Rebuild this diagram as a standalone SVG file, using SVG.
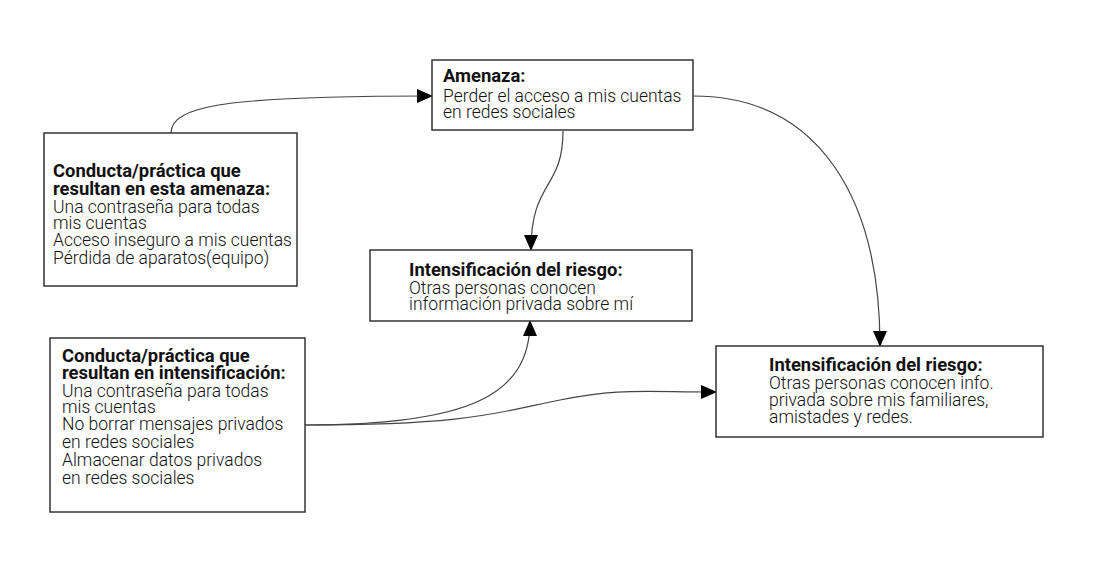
<svg xmlns="http://www.w3.org/2000/svg" width="1100" height="564" viewBox="0 0 1100 564">
<defs>
<marker id="arr" markerUnits="userSpaceOnUse" markerWidth="16" markerHeight="14" viewBox="0 0 16 14" refX="15" refY="7" orient="auto">
<path d="M0 0 L16 7 L0 14 Z" fill="#000"/>
</marker>
<style>
.box{fill:#fff;stroke:#333;stroke-width:1.5}
.t{font-family:Roboto,"Liberation Sans",sans-serif;fill:#111;font-weight:300;font-size:17.5px}
.b{font-weight:700;font-size:18.4px}
.c{fill:none;stroke:#444;stroke-width:1.2;marker-end:url(#arr)}
</style>
</defs>
<rect width="1100" height="564" fill="#fff"/>
<g id="connectors">
<path class="c" d="M171 133 C171 105, 230 96, 432 96"/>
<path class="c" d="M563 131 C563 190, 531 180, 531 250"/>
<path class="c" d="M693 96 C820 96, 880 200, 880 346"/>
<path class="c" d="M305 425 C470 425, 530 395, 530 321"/>
<path class="c" d="M305 425 C470 425, 500 412, 560 400 S 640 392, 716 392"/>
</g>
<g id="node-conducta-amenaza">
<rect class="box" x="44" y="133" width="253" height="153"/>
<text class="t"><tspan class="b" x="53" y="177">Conducta/práctica que</tspan><tspan class="b" x="53" y="195">resultan en esta amenaza:</tspan><tspan x="53" y="213">Una contraseña para todas</tspan><tspan x="53" y="229">mis cuentas</tspan><tspan x="53" y="246">Acceso inseguro a mis cuentas</tspan><tspan x="53" y="264">Pérdida de aparatos(equipo)</tspan></text>
</g>
<g id="node-amenaza">
<rect class="box" x="432" y="60" width="261" height="70"/>
<text class="t"><tspan class="b" x="443" y="82">Amenaza:</tspan><tspan x="443" y="102">Perder el acceso a mis cuentas</tspan><tspan x="443" y="118">en redes sociales</tspan></text>
</g>
<g id="node-intens-1">
<rect class="box" x="370" y="250" width="322" height="71"/>
<text class="t"><tspan class="b" x="409" y="276">Intensificación del riesgo:</tspan><tspan x="409" y="294">Otras personas conocen</tspan><tspan x="409" y="310">información privada sobre mí</tspan></text>
</g>
<g id="node-conducta-intens">
<rect class="box" x="50" y="338" width="255" height="174"/>
<text class="t"><tspan class="b" x="62" y="362">Conducta/práctica que</tspan><tspan class="b" x="62" y="379">resultan en intensificación:</tspan><tspan x="62" y="397">Una contraseña para todas</tspan><tspan x="62" y="413">mis cuentas</tspan><tspan x="62" y="430">No borrar mensajes privados</tspan><tspan x="62" y="448">en redes sociales</tspan><tspan x="62" y="466">Almacenar datos privados</tspan><tspan x="62" y="484">en redes sociales</tspan></text>
</g>
<g id="node-intens-2">
<rect class="box" x="716" y="346" width="327" height="91"/>
<text class="t"><tspan class="b" x="769" y="371">Intensificación del riesgo:</tspan><tspan x="769" y="389">Otras personas conocen info.</tspan><tspan x="769" y="406">privada sobre mis familiares,</tspan><tspan x="769" y="423">amistades y redes.</tspan></text>
</g>
</svg>
